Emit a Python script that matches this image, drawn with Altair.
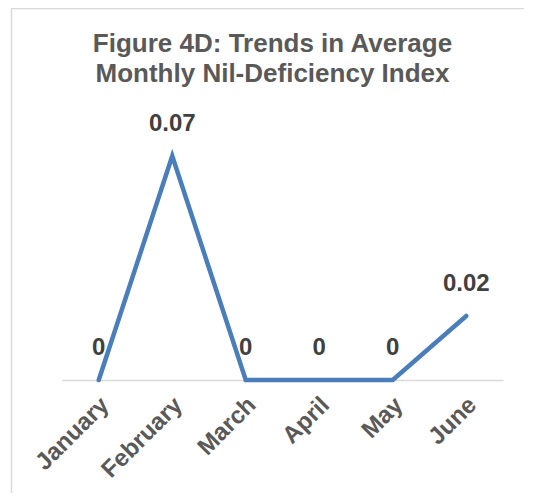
import altair as alt
import pandas as pd

months = ["January", "February", "March", "April", "May", "June"]
values = [0, 0.07, 0, 0, 0, 0.02]

df = pd.DataFrame({"month": months, "value": values})

FONT = "Liberation Sans"

base = alt.Chart(df).encode(
    x=alt.X(
        "month:N",
        sort=months,
        scale=alt.Scale(type="point", padding=0.5),
        axis=alt.Axis(
            title=None,
            labelAngle=-45,
            labelAlign="right",
            labelBaseline="middle",
            labelFont=FONT,
            labelFontSize=24,
            labelFontWeight="bold",
            labelColor="#595959",
            labelPadding=21,
            labelOffset=6,
            ticks=False,
            grid=False,
            domainColor="#d9d9d9",
            domainWidth=1.5,
        ),
    ),
    y=alt.Y("value:Q", scale=alt.Scale(domain=[0, 0.08], nice=False), axis=None),
)

line = base.mark_line(color="#4A7EBB", strokeWidth=4.5, strokeCap="round", strokeJoin="miter")

labels = base.mark_text(
    font=FONT,
    fontSize=24,
    fontWeight="bold",
    color="#404040",
    baseline="middle",
    dy=-32,
).encode(text=alt.Text("value:Q", format=".2~f"))

frame_data = pd.DataFrame({"a": [0]})
frame_top = alt.Chart(frame_data).mark_rule(color="#d9d9d9", strokeWidth=1.5).encode(
    x=alt.value(-51),
    x2=alt.value(462),
    y=alt.value(-115.5),
)
frame_left = alt.Chart(frame_data).mark_rule(color="#d9d9d9", strokeWidth=1.5).encode(
    x=alt.value(-50.5),
    y=alt.value(-115.5),
    y2=alt.value(369),
)

chart = alt.layer(frame_top, frame_left, line, labels).properties(
    width=441,
    height=256,
    padding={"left": 54, "top": 116, "right": 23, "bottom": 114},
    autosize=alt.AutoSizeParams(type="none"),
    title=alt.TitleParams(
        text=["Figure 4D: Trends in Average", "Monthly Nil-Deficiency Index"],
        font=FONT,
        fontSize=26,
        fontWeight="bold",
        color="#595959",
        lineHeight=30,
        anchor="middle",
        frame="group",
        baseline="bottom",
        dx=-10,
        dy=105,
        offset=0,
    ),
).configure_view(stroke=None)

chart.save("out.html", embed_options={"renderer": "svg", "actions": False})
